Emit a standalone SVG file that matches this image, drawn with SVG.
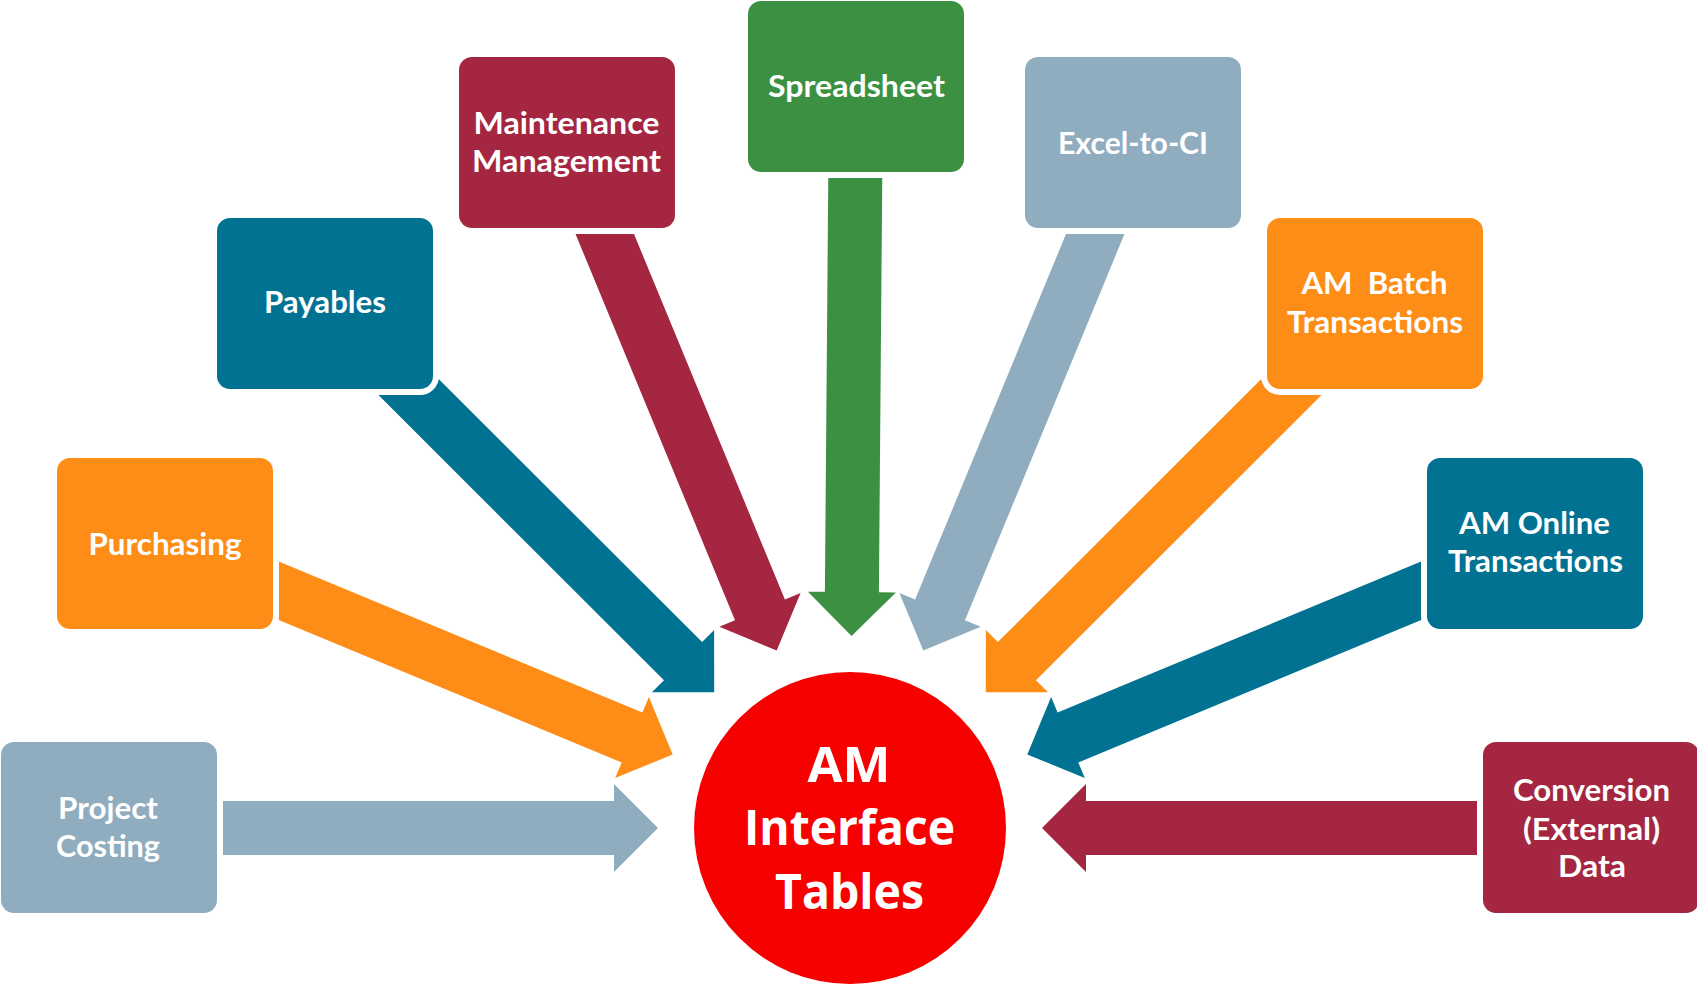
<svg xmlns="http://www.w3.org/2000/svg" width="1697" height="984" viewBox="0 0 1697 984">
<style>
.gb{fill:#8FADBF}
.or{fill:#FE8D17}
.tl{fill:#027292}
.mr{fill:#A52641}
.gr{fill:#3B9141}
.box{stroke:#FFFFFF;stroke-width:12;paint-order:stroke}
.lbl{font-family:Lato,"Liberation Sans",sans-serif;font-weight:700;font-size:30px;fill:#FFFFFF;text-anchor:middle}
.hub{font-family:"Open Sans","Liberation Sans",sans-serif;font-weight:700;font-size:49px;fill:#FFFFFF;text-anchor:middle}
</style>
<rect width="1697" height="984" fill="#FFFFFF"/>
<g id="connectors">
  <polygon class="gb" points="658,828 614,784 614,801 109,801 109,855 614,855 614,872"/>
  <polygon class="mr" points="1042,828 1086,784 1086,801 1591,801 1591,855 1086,855 1086,872"/>
  <polygon class="or" points="672.7,754.4 648.9,696.9 642.4,712.5 175.4,518.6 154.6,568.4 621.7,762.4 615.2,778.1"/>
  <polygon class="tl" points="1027.3,754.4 1051.1,696.9 1057.6,712.5 1524.6,518.6 1545.4,568.4 1078.3,762.4 1084.8,778.1"/>
  <polygon class="tl" points="714.2,692.3 714.1,630.1 702.1,642.1 344.1,284.4 305.9,322.6 664,680.3 651.9,692.3"/>
  <polygon class="or" points="985.8,692.3 985.9,630.1 997.9,642.1 1355.9,284.4 1394.1,322.6 1036,680.3 1048.1,692.3"/>
  <polygon class="mr" points="776.7,650.5 800.6,593.1 784.9,599.6 592,132.2 542,152.8 735,620.2 719.3,626.7"/>
  <polygon class="gb" points="923.3,650.5 899.4,593.1 915.1,599.6 1108,132.2 1158,152.8 965,620.2 980.7,626.7"/>
  <polygon class="gr" points="851.6,636 895.9,592.4 878.9,592.2 883,86.7 829,86.3 824.9,591.8 807.9,591.7"/>
</g>
<g id="node-project-costing">
  <rect class="box gb" x="1" y="742" width="216" height="171" rx="13"/>
  <text class="lbl" x="108" y="818.5" textLength="100" lengthAdjust="spacingAndGlyphs">Project</text>
  <text class="lbl" x="108" y="856.5" textLength="104" lengthAdjust="spacingAndGlyphs">Costing</text>
</g>
<g id="node-purchasing">
  <rect class="box or" x="57" y="458" width="216" height="171" rx="13"/>
  <text class="lbl" x="165" y="554.5" textLength="153" lengthAdjust="spacingAndGlyphs">Purchasing</text>
</g>
<g id="node-payables">
  <rect class="box tl" x="217" y="218" width="216" height="171" rx="13"/>
  <text class="lbl" x="325" y="313" textLength="122" lengthAdjust="spacingAndGlyphs">Payables</text>
</g>
<g id="node-maintenance">
  <rect class="box mr" x="459" y="57" width="216" height="171" rx="13"/>
  <text class="lbl" x="566.5" y="133.5" textLength="186" lengthAdjust="spacingAndGlyphs">Maintenance</text>
  <text class="lbl" x="566.5" y="171.5" textLength="189" lengthAdjust="spacingAndGlyphs">Management</text>
</g>
<g id="node-spreadsheet">
  <rect class="box gr" x="748" y="1" width="216" height="171" rx="13"/>
  <text class="lbl" x="856.5" y="96.5" textLength="177" lengthAdjust="spacingAndGlyphs">Spreadsheet</text>
</g>
<g id="node-excel">
  <rect class="box gb" x="1025" y="57" width="216" height="171" rx="13"/>
  <text class="lbl" x="1133" y="153.5" textLength="150" lengthAdjust="spacingAndGlyphs">Excel-to-CI</text>
</g>
<g id="node-am-batch">
  <rect class="box or" x="1267" y="218" width="216" height="171" rx="13"/>
  <text class="lbl" x="1374.5" y="294" textLength="146" lengthAdjust="spacingAndGlyphs" xml:space="preserve">AM  Batch</text>
  <text class="lbl" x="1375" y="332.5" textLength="176" lengthAdjust="spacingAndGlyphs">Transactions</text>
</g>
<g id="node-am-online">
  <rect class="box tl" x="1427" y="458" width="216" height="171" rx="13"/>
  <text class="lbl" x="1534.5" y="533.5" textLength="151" lengthAdjust="spacingAndGlyphs">AM Online</text>
  <text class="lbl" x="1535.5" y="571.5" textLength="175" lengthAdjust="spacingAndGlyphs">Transactions</text>
</g>
<g id="node-conversion">
  <rect class="box mr" x="1483" y="742" width="216" height="171" rx="13"/>
  <text class="lbl" x="1591.5" y="801" textLength="157" lengthAdjust="spacingAndGlyphs">Conversion</text>
  <text class="lbl" x="1591.5" y="839.5" textLength="137" lengthAdjust="spacingAndGlyphs">(External)</text>
  <text class="lbl" x="1592" y="877" textLength="68" lengthAdjust="spacingAndGlyphs">Data</text>
</g>
<g id="node-hub">
  <circle cx="850" cy="828" r="156" fill="#F60000"/>
  <text class="hub" x="849" y="782" textLength="83" lengthAdjust="spacingAndGlyphs">AM</text>
  <text class="hub" x="849.5" y="845" textLength="211" lengthAdjust="spacingAndGlyphs">Interface</text>
  <text class="hub" x="849.5" y="909" textLength="149" lengthAdjust="spacingAndGlyphs">Tables</text>
</g>
</svg>
